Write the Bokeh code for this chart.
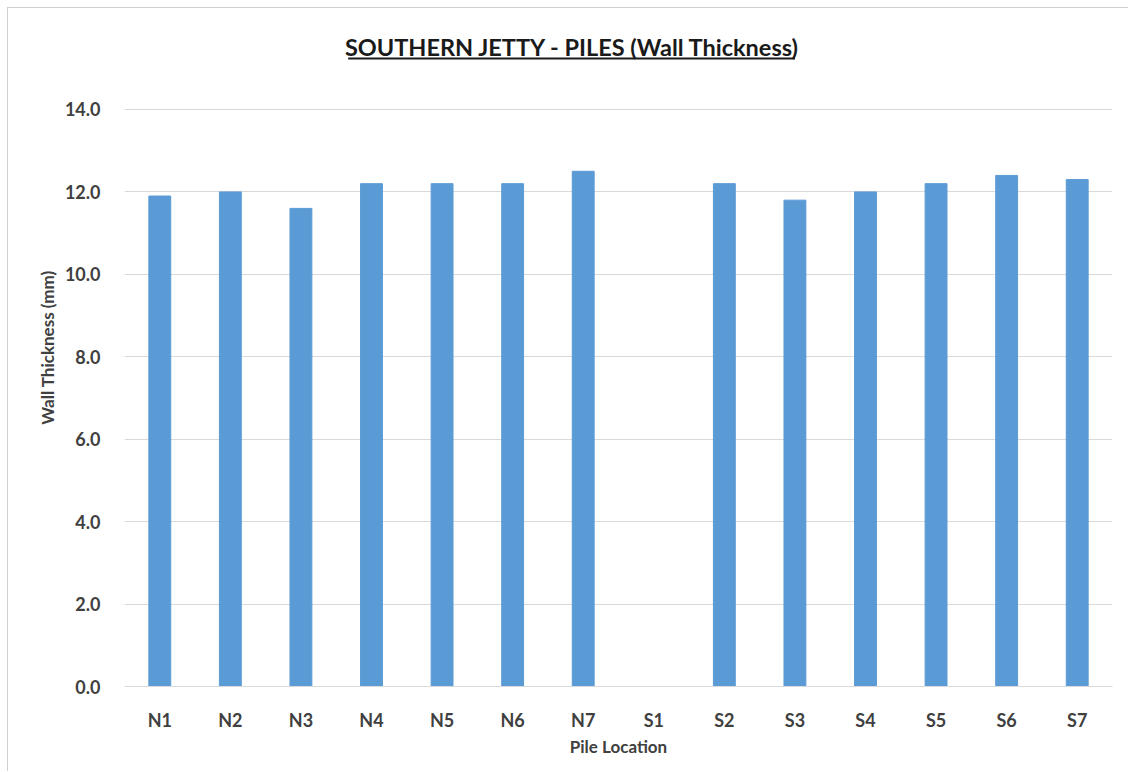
from bokeh.plotting import figure
from bokeh.models import Label, BoxAnnotation, FixedTicker, NumeralTickFormatter, Range1d, FactorRange
from bokeh.embed import file_html
from bokeh.resources import INLINE

# Wall thickness per pile (mm); S1 has no reading
piles = ["N1", "N2", "N3", "N4", "N5", "N6", "N7", "S1", "S2", "S3", "S4", "S5", "S6", "S7"]
thickness = [11.9, 12.0, 11.6, 12.2, 12.2, 12.2, 12.5, 0.0, 12.2, 11.8, 12.0, 12.2, 12.4, 12.3]
y_ticks = [0, 2, 4, 6, 8, 10, 12, 14]

FONT = "Lato"
TEXT = "#404040"

# the frame runs up to the chart edge so the title sits inside it;
# grid lines and labels are limited to the ticks 0..14
p = figure(
    width=1121, height=764,
    x_range=FactorRange(*piles, range_padding=0),
    y_range=Range1d(0, 16.45),
    output_backend="svg", toolbar_location=None,
    min_border_left=116, min_border_right=17,
    min_border_top=0, min_border_bottom=86,
)
p.styles = {"margin-left": "7px", "margin-top": "7px",
            "border-left": "1px solid #d0d0d0", "border-top": "1px solid #d0d0d0"}
p.outline_line_color = None
p.background_fill_color = "white"
p.border_fill_color = "white"

p.vbar(x=piles, top=thickness, width=0.31, color="#5B9BD5")

# grid
p.xgrid.grid_line_color = None
p.ygrid.grid_line_color = "#d9d9d9"
p.ygrid.grid_line_width = 1
p.yaxis.ticker = FixedTicker(ticks=y_ticks)
p.yaxis.formatter = NumeralTickFormatter(format="0.0")

for ax in (p.xaxis[0], p.yaxis[0]):
    ax.major_tick_line_color = None
    ax.minor_tick_line_color = None
    ax.major_label_text_font = FONT
    ax.major_label_text_font_style = "bold"
    ax.major_label_text_font_size = "18px"
    ax.major_label_text_color = TEXT
    ax.axis_label_text_font = FONT
    ax.axis_label_text_font_style = "bold"
    ax.axis_label_text_font_size = "17px"
    ax.axis_label_text_color = TEXT

p.yaxis.axis_line_color = None
p.yaxis.major_label_standoff = 18
p.yaxis.axis_label = "Wall Thickness (mm)"
p.yaxis.axis_label_standoff = 4
p.xaxis.axis_line_color = "#d9d9d9"
p.xaxis.major_label_standoff = 16
p.xaxis.axis_label = "Pile Location"
p.xaxis.axis_label_standoff = 2

# chart title with underline
title = Label(x=6.35, y=15.51,
              text="SOUTHERN JETTY - PILES (Wall Thickness)",
              text_font=FONT, text_font_style="bold", text_font_size="23.5px",
              text_color="#1a1a1a", text_align="center", text_baseline="alphabetic")
p.add_layout(title)
p.add_layout(BoxAnnotation(left=3.17, right=9.5, top=15.26, bottom=15.21,
                           fill_color="#1a1a1a", fill_alpha=1, line_color=None))

open("out.html", "w").write(file_html(p, INLINE))
